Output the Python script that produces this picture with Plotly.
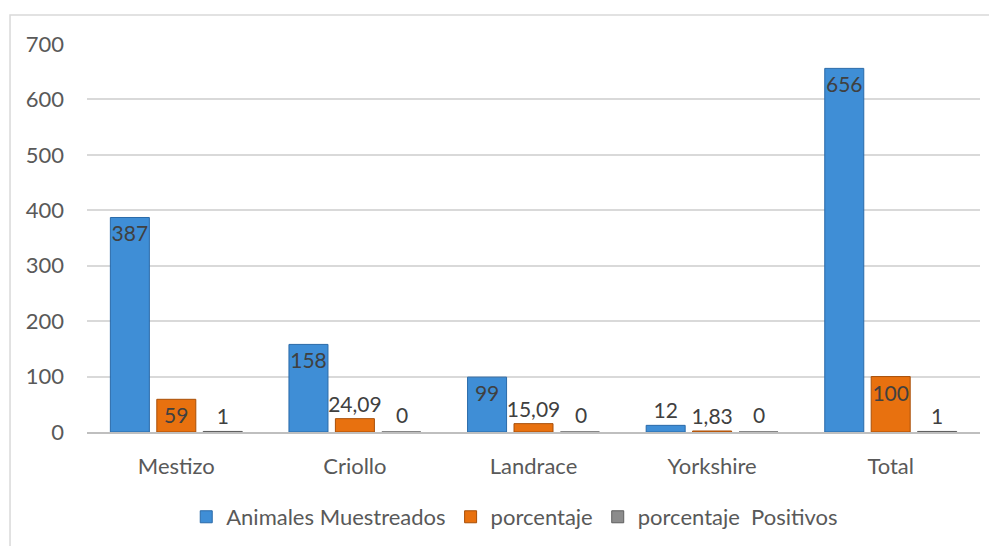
import plotly.graph_objects as go

razas = ['Mestizo', 'Criollo', 'Landrace', 'Yorkshire', 'Total']
animales = [387, 158, 99, 12, 656]
porcentaje = [59, 24.09, 15.09, 1.83, 100]
positivos = [1, 0, 0, 0, 1]


def etiquetas(vals):
    return [f"{v:g}".replace('.', ',') for v in vals]


fuente = "Lato, Open Sans, sans-serif"

series = [
    ('Animales Muestreados', animales, '#3f8ed6', '#2a6aa8'),
    ('porcentaje', porcentaje, '#e8710f', '#a84f08'),
    ('porcentaje  Positivos', positivos, '#8c8c8c', '#5f5f5f'),
]

fig = go.Figure()
for nombre, vals, color, borde in series:
    fig.add_trace(go.Bar(
        x=razas, y=vals, name=nombre,
        marker=dict(color=color, line=dict(color=borde, width=1)),
        text=etiquetas(vals), textposition='auto', textangle=0,
        insidetextanchor='end',
        insidetextfont=dict(family=fuente, size=21, color='#404040'),
        outsidetextfont=dict(family=fuente, size=21, color='#404040'),
        cliponaxis=False,
    ))

# plotly no dibuja el texto de barras con valor 0
for raza, v in zip(razas, positivos):
    if v == 0:
        fig.add_annotation(x=raza, y=v, text=etiquetas([v])[0], showarrow=False,
                           xshift=47, yshift=3, yanchor='bottom',
                           font=dict(family=fuente, size=21, color='#404040'))

fig.update_layout(
    width=997, height=546,
    paper_bgcolor='white', plot_bgcolor='white',
    margin=dict(l=79, r=25, t=36, b=122),
    barmode='group', bargap=0.22, bargroupgap=0.16,
    uniformtext=dict(minsize=21, mode='show'),
    font=dict(family=fuente, size=22, color='#595959'),
    legend=dict(orientation='h', x=0.479, xanchor='center', y=-0.219, yanchor='middle',
                font=dict(size=22, color='#595959'), itemwidth=30, traceorder='normal'),
    yaxis=dict(range=[0, 700], dtick=100, showgrid=True, gridcolor='#d9d9d9', gridwidth=1.5,
               zeroline=False, showline=False, ticks='', ticklabelstandoff=22),
    xaxis=dict(showline=True, linecolor='#bfbfbf', linewidth=1.5, ticks='',
               ticklabelstandoff=14),
    showlegend=True,
    shapes=[dict(type='rect', xref='paper', yref='paper',
                 x0=-0.0862, x1=1.05, y0=-0.45, y1=1.0747,
                 line=dict(color='#d9d9d9', width=1.5), layer='below')],
)

fig.write_html("out.html")
